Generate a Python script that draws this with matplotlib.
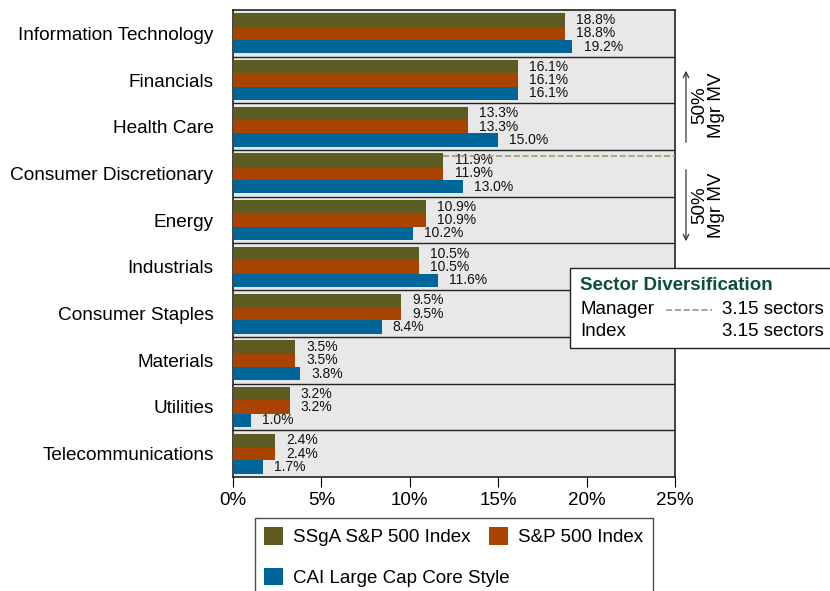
import matplotlib.pyplot as plt
import numpy as np
from matplotlib.patches import Rectangle
from matplotlib.lines import Line2D

sectors = ['Information Technology', 'Financials', 'Health Care', 'Consumer Discretionary',
           'Energy', 'Industrials', 'Consumer Staples', 'Materials', 'Utilities',
           'Telecommunications']
ssga = [18.8, 16.1, 13.3, 11.9, 10.9, 10.5, 9.5, 3.5, 3.2, 2.4]
sp500 = [18.8, 16.1, 13.3, 11.9, 10.9, 10.5, 9.5, 3.5, 3.2, 2.4]
cai = [19.2, 16.1, 15.0, 13.0, 10.2, 11.6, 8.4, 3.8, 1.0, 1.7]
series_names = ['SSgA S&P 500 Index', 'S&P 500 Index', 'CAI Large Cap Core Style']
colors = ['#5c5c22', '#a84400', '#00669a']
manager_div = 3.15
index_div = 3.15

plt.rcParams['font.family'] = ['Liberation Sans', 'DejaVu Sans']
fs = 13.5

fig = plt.figure(figsize=(8.3, 5.91), dpi=100)
ax = fig.add_axes([233/830, 1-477/591, (675-233)/830, (477-10)/591])
ax.set_facecolor('#e8e8e8')

y = np.arange(len(sectors))
h = 0.285
bars = []
for k, vals in enumerate([ssga, sp500, cai]):
    b = ax.barh(y + (k-1)*h, vals, height=h, color=colors[k], label=series_names[k], zorder=3)
    bars.append(b)
    for yi, v in zip(y, vals):
        ax.annotate(f'{v:.1f}%', (v, yi + (k-1)*h), xytext=(8, 0), textcoords='offset points',
                    va='center', ha='left', fontsize=10, color='#111111', zorder=4)

for i in range(len(sectors)-1):
    ax.axhline(i+0.5, color='#222222', lw=1, zorder=2)

# manager cumulative 50% line
ax.plot([ssga[3], 25], [3 - 1.5*h + 0.05, 3 - 1.5*h + 0.05], ls='--', color='#9a9a78', lw=1.2, zorder=4)

ax.set_xlim(0, 25)
ax.set_ylim(len(sectors)-0.5, -0.5)
ax.set_xticks([0, 5, 10, 15, 20, 25])
ax.set_xticklabels(['0%', '5%', '10%', '15%', '20%', '25%'], fontsize=fs)
ax.set_yticks(y)
ax.set_yticklabels(sectors, fontsize=13.7)
ax.tick_params(axis='y', length=0, pad=14)
ax.tick_params(axis='x', length=7, direction='out', pad=4)
for s in ax.spines.values():
    s.set_color('#222222')
    s.set_linewidth(1.2)

# 50% Mgr MV arrows
ax.annotate('', xy=(686/830, 1-68/591), xytext=(686/830, 1-145/591), xycoords='figure fraction',
            arrowprops=dict(arrowstyle='->', color='#333333', lw=0.9))
ax.annotate('', xy=(686/830, 1-244/591), xytext=(686/830, 1-167/591), xycoords='figure fraction',
            arrowprops=dict(arrowstyle='->', color='#333333', lw=0.9))
fig.text(708/830, 1-105/591, '50%\nMgr MV', rotation=90, ha='center', va='center', fontsize=fs,
         linespacing=1.0)
fig.text(708/830, 1-205/591, '50%\nMgr MV', rotation=90, ha='center', va='center', fontsize=fs,
         linespacing=1.0)

# sector diversification box
fig.add_artist(Rectangle((570/830, 1-348/591), 262/830, 80/591, transform=fig.transFigure,
                         facecolor='white', edgecolor='#222222', lw=1, zorder=5))
fig.text(580/830, 1-285/591, 'Sector Diversification', fontsize=fs, fontweight='bold',
         color='#0d4f3c', va='center', zorder=6)
fig.text(580/830, 1-310/591, 'Manager', fontsize=fs, va='center', zorder=6)
fig.text(580/830, 1-332/591, 'Index', fontsize=fs, va='center', zorder=6)
fig.add_artist(Line2D([666/830, 712/830], [1-310/591, 1-310/591], ls='--', color='#9a9a78', lw=1.2,
                      zorder=6))
fig.text(824/830, 1-310/591, f'{manager_div:.2f} sectors', fontsize=fs, va='center', ha='right', zorder=6)
fig.text(824/830, 1-332/591, f'{index_div:.2f} sectors', fontsize=fs, va='center', ha='right', zorder=6)

leg = fig.legend([bars[0], bars[2], bars[1]], [series_names[0], series_names[2], series_names[1]],
                 loc='upper left', bbox_to_anchor=(255/830, 1-518/591), ncol=2, fontsize=fs,
                 handlelength=1.0, handleheight=1.05, labelspacing=1.15, columnspacing=-1.1,
                 handletextpad=0.55, borderpad=0.5, borderaxespad=0, fancybox=False,
                 edgecolor='#222222')
leg.get_frame().set_linewidth(1)

fig.savefig('out.png', dpi=100)
